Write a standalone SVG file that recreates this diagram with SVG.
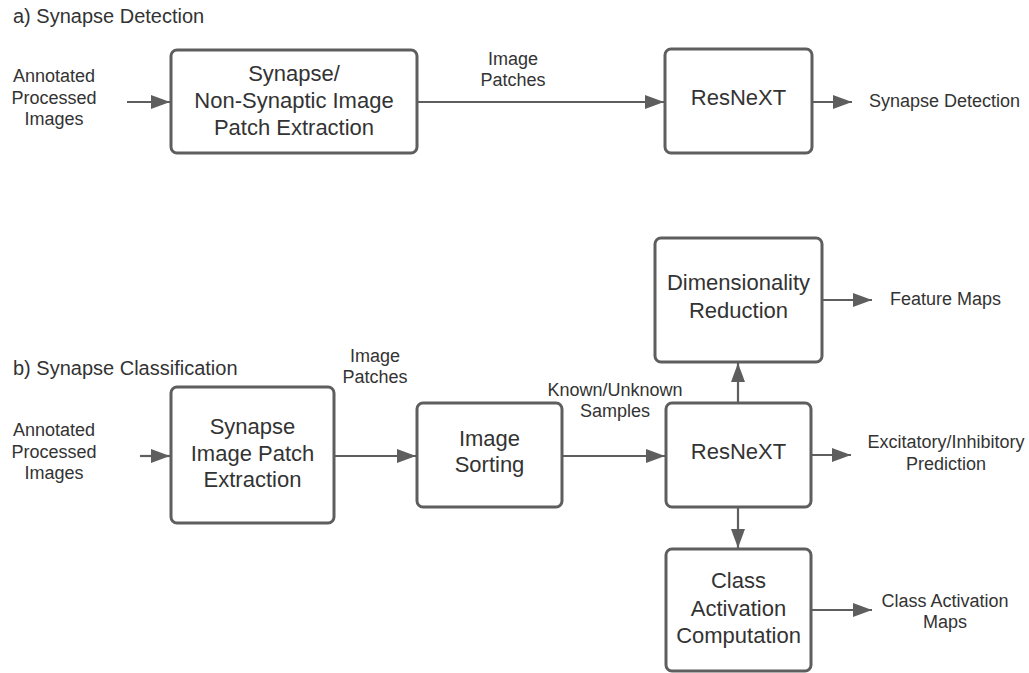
<svg xmlns="http://www.w3.org/2000/svg" width="1029" height="673" viewBox="0 0 1029 673">
<defs>
<style>
.box{fill:#ffffff;stroke:#5e5e5e;stroke-width:3}
.bt{font-family:"Liberation Sans",Arial,sans-serif;font-size:22px;fill:#333333;text-anchor:middle}
.lb{font-family:"Liberation Sans",Arial,sans-serif;font-size:18px;fill:#333333}
.c{text-anchor:middle}
.ttl{font-family:"Liberation Sans",Arial,sans-serif;font-size:20px;fill:#333333}
.ln{fill:none;stroke:#5e5e5e;stroke-width:2.2;marker-end:url(#ah)}
</style>
<marker id="ah" markerUnits="userSpaceOnUse" markerWidth="20" markerHeight="14" refX="19" refY="7" orient="auto">
<path d="M0,0 L19,7 L0,14 Z" fill="#5e5e5e"/>
</marker>
</defs>
<rect width="1029" height="673" fill="#ffffff"/>
<text class="ttl" x="13" y="23">a) Synapse Detection</text>
<text class="ttl" x="13" y="375">b) Synapse Classification</text>

<g id="connectors">
<line class="ln" x1="127" y1="102" x2="170" y2="102"/>
<line class="ln" x1="417" y1="102" x2="664" y2="102"/>
<line class="ln" x1="812" y1="102" x2="852" y2="102"/>
<line class="ln" x1="140" y1="456" x2="170" y2="456"/>
<line class="ln" x1="334" y1="456" x2="416" y2="456"/>
<line class="ln" x1="562" y1="456" x2="665" y2="456"/>
<line class="ln" x1="811" y1="455" x2="851" y2="455"/>
<line class="ln" x1="738" y1="403" x2="738" y2="363"/>
<line class="ln" x1="738" y1="507" x2="738" y2="548"/>
<line class="ln" x1="822" y1="300" x2="872" y2="300"/>
<line class="ln" x1="811" y1="610" x2="872" y2="610"/>
<g class="lb">
<text class="c" x="513" y="65">Image</text>
<text class="c" x="513" y="86">Patches</text>
<text class="c" x="375" y="362">Image</text>
<text class="c" x="375" y="383">Patches</text>
<text class="c" x="615" y="396">Known/Unknown</text>
<text class="c" x="615" y="417">Samples</text>
</g>
</g>

<g id="in-a" class="lb">
<text class="c" x="54" y="82">Annotated</text>
<text class="c" x="54" y="104">Processed</text>
<text class="c" x="54" y="125">Images</text>
</g>
<g id="extract-a">
<rect class="box" x="171" y="50" width="246" height="103" rx="6"/>
<text class="bt" x="294" y="81">Synapse/</text>
<text class="bt" x="294" y="108">Non-Synaptic Image</text>
<text class="bt" x="294" y="135">Patch Extraction</text>
</g>
<g id="resnext-a">
<rect class="box" x="665" y="49" width="147" height="104" rx="6"/>
<text class="bt" x="738.5" y="105">ResNeXT</text>
</g>
<g id="out-a" class="lb">
<text x="869" y="107">Synapse Detection</text>
</g>

<g id="in-b" class="lb">
<text class="c" x="54" y="436">Annotated</text>
<text class="c" x="54" y="458">Processed</text>
<text class="c" x="54" y="479">Images</text>
</g>
<g id="extract-b">
<rect class="box" x="171" y="387" width="163" height="136" rx="6"/>
<text class="bt" x="252.5" y="434">Synapse</text>
<text class="bt" x="252.5" y="461">Image Patch</text>
<text class="bt" x="252.5" y="487">Extraction</text>
</g>
<g id="sorting">
<rect class="box" x="417" y="403" width="145" height="104" rx="6"/>
<text class="bt" x="489.5" y="446">Image</text>
<text class="bt" x="489.5" y="472">Sorting</text>
</g>
<g id="resnext-b">
<rect class="box" x="666" y="403" width="145" height="104" rx="6"/>
<text class="bt" x="738.5" y="459">ResNeXT</text>
</g>
<g id="dimred">
<rect class="box" x="655" y="238" width="167" height="124" rx="6"/>
<text class="bt" x="738.5" y="290">Dimensionality</text>
<text class="bt" x="738.5" y="318">Reduction</text>
</g>
<g id="cam">
<rect class="box" x="666" y="549" width="145" height="122" rx="6"/>
<text class="bt" x="738.5" y="588">Class</text>
<text class="bt" x="738.5" y="616">Activation</text>
<text class="bt" x="738.5" y="643">Computation</text>
</g>
<g id="out-feature" class="lb">
<text x="890" y="305">Feature Maps</text>
</g>
<g id="out-pred" class="lb">
<text class="c" x="946" y="448">Excitatory/Inhibitory</text>
<text class="c" x="946" y="470">Prediction</text>
</g>
<g id="out-cam" class="lb">
<text class="c" x="945" y="607">Class Activation</text>
<text class="c" x="945" y="628">Maps</text>
</g>
</svg>
